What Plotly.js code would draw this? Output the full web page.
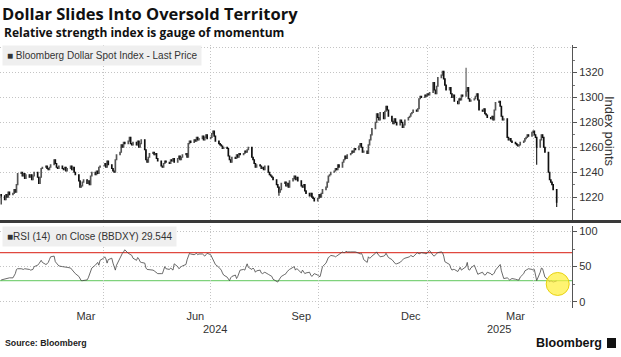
<!DOCTYPE html>
<html><head><meta charset="utf-8">
<script src="https://cdn.plot.ly/plotly-3.0.1.min.js"></script>
<style>html,body{margin:0;padding:0;background:#fff}#chart{width:621px;height:357px}</style>
</head><body><div id="chart"></div>
<script>
// ---- DATA (daily closes, business days from 2024-01-05) ----
const startDate = '2024-01-05';
const closeA = [1221,
 1218,1222,1220,1224,1222, 1223,1226,1224,1230,1239, 1240,1237,1239,1235,1238, 1236,1238,1234,1237,1240,
 1236,1231,1236,1243,1244, 1245,1243,1242,1244,1246, 1250,1247,1244,1243,1245, 1243,1242,1244,1241,1243,
 1245,1242,1244,1240,1238, 1233,1228,1229,1232,1234, 1231,1233,1230,1237,1240, 1238,1241,1239,1244,1245,
 1245,1247,1244,1249,1246, 1243,1241,1240,1250,1254, 1256,1262,1260,1264,1263, 1265,1268,1263,1262,1264,
 1262,1265,1260,1263,1266];
const closeB = [
 1258,1250,1248,1252,1255, 1256,1254,1255,1251,1249, 1245,1244,1247,1249,1248, 1247,1250,1249,1251,1248,
 1251,1253,1250,1252,1254, 1255,1252,1263,1265,1264, 1266,1265,1268,1266,1267, 1269,1266,1268,1270,1267,
 1268,1271,1273,1269,1265, 1263,1262,1261,1259,1260, 1259,1253,1250,1248,1252, 1251,1254,1252,1255,1254,
 1255,1257,1256,1258,1260, 1252,1250,1247,1244,1246, 1245,1243,1244,1242,1245, 1240,1238,1237,1236,1234,
 1230,1228,1224,1226,1231];
const closeC = [
 1232,1229,1231,1228,1233, 1235,1237,1234,1236,1233, 1229,1228,1230,1225,1223, 1221,1223,1220,1219,1217,
 1219,1222,1220,1223,1226, 1228,1232,1237,1238,1240, 1241,1243,1242,1246,1244, 1248,1250,1253,1251,1254,
 1255,1257,1256,1259,1258, 1261,1263,1260,1256,1257, 1255,1262,1266,1270,1275, 1280,1287,1284,1282,1288,
 1283,1289,1293,1290,1285, 1281,1279,1283,1280,1278, 1282,1280,1276,1278,1282, 1284,1285,1287,1288,1290,
 1289,1291,1299,1301,1300];
const closeD = [
 1302,1301,1303,1302,1304, 1312,1306,1303,1309,1316, 1318,1321,1315,1310,1306, 1308,1303,1300,1302,1297,
 1295,1299,1298,1302,1301, 1305,1308,1299,1297,1298, 1299,1301,1303,1298,1290, 1289,1291,1287,1286,1284,
 1283,1285,1282,1290,1296, 1297,1293,1285,1282,1283, 1268,1266,1267,1265,1264, 1263,1262,1261,1262,1264,
 1265,1267,1268,1270,1269, 1272,1273,1270,1268,1260, 1266,1270,1268,1260,1256, 1240,1234,1232,1230,1226,
 1216];
const firstOpen = 1222;
const wickHighIdx = [281];
const wickHighVal = [1324];
const wickLowIdx = [0, 168, 325, 336];
const wickLowVal = [1214, 1221, 1246, 1212];

const rsiA = [31,
 32,33,33,34,34, 34,37,40,46,47, 47,46,46,47,47, 46,45,46,46,50,
 52,54,56,59,56, 53,54,56,60,64, 65,57,55,53,51, 50,50,49,50,49,
 48,46,45,43,40, 36,32,30,30,30, 31,34,38,44,48, 52,55,56,52,59,
 62,64,61,55,60, 62,55,48,45,52, 62,67,69,71,74, 69,68,67,66,62,
 59,63,61,57,56];
const rsiB = [
 55,48,46,46,45, 45,44,43,41,40, 40,40,45,50,47, 46,48,47,45,54,
 50,47,49,50,51, 53,60,66,69,68, 67,68,69,67,68, 68,67,65,67,69,
 67,64,60,56,53, 49,47,45,41,38, 35,32,30,34,36, 38,33,36,40,45,
 46,45,50,54,49, 46,48,46,42,44, 45,41,40,41,42, 39,38,37,36,32,
 29,28,31,33,36];
const rsiC = [
 39,40,43,45,46, 49,50,45,47,46, 41,45,42,40,41, 42,38,36,38,40,
 38,36,36,42,50, 55,59,63,64,66, 65,64,65,66,68, 71,70,70,72,71,
 71,71,72,71,71, 69,68,69,66,60, 56,64,62,63,65, 69,71,68,65,64,
 65,66,69,66,63, 60,58,57,54,54, 56,58,60,61,62, 63,64,66,65,64,
 69,70,68,69,70];
const rsiD = [
 69,68,70,72,73, 66,65,67,68,70, 71,70,65,57,56, 53,48,45,46,46,
 43,47,49,45,46, 50,56,46,45,48, 52,47,44,39,40, 42,39,38,39,42,
 40,38,39,41,45, 51,53,44,37,33, 34,33,31,32,33, 32,31,31,31,35,
 40,44,45,46,47, 46,45,46,38,30, 42,48,47,42,35, 31,28,30,29,28,
 29.544];

const monthTickDates = ['2024-03-17','2024-06-18','2024-09-16','2024-12-18','2025-03-17'];
const monthTickText = ['Mar','Jun','Sep','Dec','Mar'];
const quarterGridDates = ['2024-04-01','2024-07-01','2024-10-01','2025-01-01','2025-04-01'];
const yearLabelDates = ['2024-07-05','2025-03-03'];
const yearLabelText = ['2024','2025'];
const priceTicks = [1220,1240,1260,1280,1300,1320,1340];
const priceTickText = ['1220','1240','1260','1280','1300','1320',''];
const rsiTicks = [0,50,100];
const rsiOverbought = 70, rsiOversold = 30;

// ---- build ----
function bizDays(start, n){
  const out=[]; const d=new Date(start+'T00:00:00Z');
  while(out.length<n){ const wd=d.getUTCDay(); if(wd!==0&&wd!==6) out.push(d.toISOString().slice(0,10)); d.setUTCDate(d.getUTCDate()+1); }
  return out;
}
const closes = [].concat(closeA, closeB, closeC, closeD);
const rsi = [].concat(rsiA, rsiB, rsiC, rsiD);
const dates = bizDays(startDate, closes.length);
const opens = closes.map((c,i)=> i===0 ? firstOpen : closes[i-1]);
const highs = closes.map((c,i)=> Math.max(c, opens[i]));
const lows = closes.map((c,i)=> Math.min(c, opens[i]));
wickHighIdx.forEach((k,j)=>{ highs[k]=Math.max(highs[k], wickHighVal[j]); });
wickLowIdx.forEach((k,j)=>{ lows[k]=Math.min(lows[k], wickLowVal[j]); });
const lastDate = dates[dates.length-1];
const lastRsi = rsi[rsi.length-1];

const FONT = 'Liberation Sans, Arial, sans-serif';
const HFONT = 'Open Sans, Arial, sans-serif';
const GRID = '#c4c4c4';
const traces = [
  {type:'candlestick', x:dates, open:opens, high:highs, low:lows, close:closes, xaxis:'x', yaxis:'y',
   increasing:{line:{color:'#555', width:1.1}, fillcolor:'#bdbdbd'},
   decreasing:{line:{color:'#111', width:1.1}, fillcolor:'#111'},
   whiskerwidth:0, hoverinfo:'skip', showlegend:false},
  {type:'scatter', mode:'lines', x:dates, y:rsi, xaxis:'x', yaxis:'y2',
   line:{color:'#444', width:0.8}, hoverinfo:'skip', showlegend:false}
];

const pyTop = 0.327, pyBot = 0.312;
const layout = {
  width:621, height:357,
  margin:{l:0, r:49, t:45, b:49, pad:0},
  paper_bgcolor:'#fff', plot_bgcolor:'#fff',
  showlegend:false,
  font:{family:FONT, size:11, color:'#333'},
  title:{text:'Dollar Slides Into Oversold Territory', xref:'container', x:2/621, xanchor:'left',
         yref:'container', y:1-14.5/357, yanchor:'middle',
         font:{family:HFONT, size:16.5, weight:700, color:'#111'}},
  xaxis:{type:'date', anchor:'y2', domain:[0,1], range:['2024-01-04','2025-05-04'],
         tickmode:'array', tickvals:monthTickDates, ticktext:monthTickText,
         showgrid:false, zeroline:false, showline:false, ticks:'',
         tickfont:{family:FONT, size:11, color:'#333'},
         rangeslider:{visible:false},
         minor:{tickmode:'array', tickvals:quarterGridDates, showgrid:true, gridcolor:GRID, griddash:'1px,2px', gridwidth:1, ticks:''}},
  yaxis:{domain:[pyTop,1], side:'right', range:[1200,1342.2], anchor:'x',
         tickmode:'array', tickvals:priceTicks, ticktext:priceTickText,
         showgrid:true, gridcolor:GRID, griddash:'1px,2px', gridwidth:1, zeroline:false,
         showline:true, linecolor:'#555', linewidth:1, ticks:'outside', ticklen:4, tickcolor:'#555',
         tickfont:{family:FONT, size:11, color:'#333'},
         minor:{dtick:10, tick0:1200, ticks:'outside', ticklen:2, tickcolor:'#777', showgrid:false}},
  yaxis2:{domain:[0,pyBot], side:'right', range:[-9,108], anchor:'x',
         tickmode:'array', tickvals:rsiTicks,
         showgrid:true, gridcolor:GRID, griddash:'1px,2px', gridwidth:1, zeroline:false,
         showline:true, linecolor:'#555', linewidth:1, ticks:'outside', ticklen:4, tickcolor:'#555',
         tickfont:{family:FONT, size:11, color:'#333'},
         minor:{dtick:25, tick0:0, ticks:'outside', ticklen:2, tickcolor:'#777', showgrid:false}},
  shapes:[
    {type:'line', xref:'paper', yref:'y2', x0:0, x1:1, y0:rsiOverbought, y1:rsiOverbought, line:{color:'#e0483f', width:1.3}, layer:'below'},
    {type:'line', xref:'paper', yref:'y2', x0:0, x1:1, y0:rsiOversold, y1:rsiOversold, line:{color:'#7fd27c', width:1.3}, layer:'below'},
    {type:'line', xref:'paper', yref:'paper', x0:-0.01, x1:1.09, y0:0.3289, y1:0.3289, line:{color:'#3a3a3a', width:3}},
    {type:'circle', xref:'x', yref:'y2', xsizemode:'pixel', ysizemode:'pixel', xanchor:lastDate, yanchor:lastRsi,
     x0:-10.5, x1:12.5, y0:-14.5, y1:8.5, fillcolor:'rgba(255,240,60,0.72)', line:{color:'rgba(230,205,0,0.9)', width:1}, layer:'above'},
    {type:'rect', xref:'paper', yref:'paper', x0:607/572, x1:616/572, y0:(308-348)/263, y1:(308-338)/263, fillcolor:'#111', line:{width:0}}
  ],
  annotations:[
    {xref:'paper', yref:'paper', x:2/572, y:(308-32.5)/263, xanchor:'left', yanchor:'middle', showarrow:false,
     text:'<b>Relative strength index is gauge of momentum</b>', font:{family:HFONT, size:12, color:'#111'}},
    {xref:'paper', yref:'paper', x:2/572, y:1, xanchor:'left', yanchor:'top', showarrow:false,
     text:'■\u00a0Bloomberg Dollar Spot Index - Last Price', bgcolor:'#efefef', borderpad:4,
     font:{family:FONT, size:10, color:'#333'}},
    {xref:'paper', yref:'paper', x:2/572, y:pyBot, xanchor:'left', yanchor:'top', showarrow:false,
     text:'■RSI (14)\u00a0\u00a0on Close (BBDXY) 29.544', bgcolor:'#efefef', borderpad:4,
     font:{family:FONT, size:10, color:'#333'}},
    {xref:'paper', yref:'paper', x:610/572, y:(308-131)/263, xanchor:'center', yanchor:'middle', showarrow:false,
     text:'Index points', textangle:90, font:{family:FONT, size:13, color:'#333'}},
    {xref:'x', yref:'paper', x:yearLabelDates[0], y:(308-329)/263, xanchor:'center', yanchor:'middle', showarrow:false,
     text:yearLabelText[0], font:{family:FONT, size:11, color:'#333'}},
    {xref:'x', yref:'paper', x:yearLabelDates[1], y:(308-329)/263, xanchor:'center', yanchor:'middle', showarrow:false,
     text:yearLabelText[1], font:{family:FONT, size:11, color:'#333'}},
    {xref:'paper', yref:'paper', x:3/572, y:(308-343)/263, xanchor:'left', yanchor:'middle', showarrow:false,
     text:'<b>Source: Bloomberg</b>', font:{family:FONT, size:8.8, color:'#222'}},
    {xref:'paper', yref:'paper', x:604/572, y:(308-343)/263, xanchor:'right', yanchor:'middle', showarrow:false,
     text:'<b>Bloomberg</b>', font:{family:FONT, size:12.5, color:'#111'}}
  ]
};
Plotly.newPlot('chart', traces, layout, {staticPlot:true, displayModeBar:false});
</script></body></html>
